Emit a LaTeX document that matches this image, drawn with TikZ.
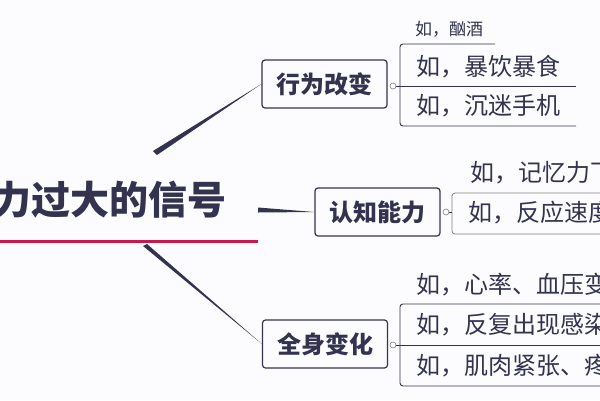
\documentclass[tikz,border=0pt]{standalone}
\usepackage{fontspec}
\setmainfont{Noto Sans CJK SC}
\usetikzlibrary{calc}
\definecolor{ink}{HTML}{33334F}
\definecolor{crim}{HTML}{C8194A}
\definecolor{paper}{HTML}{FCFCFE}
\tikzset{
  topic/.style={draw=ink, line width=1.2pt, rounded corners=3pt, minimum width=125pt,
    minimum height=48pt, font=\bfseries\fontsize{24}{24}\selectfont, text=ink, inner sep=0pt},
  leaf/.style={anchor=west, font=\fontsize{24}{24}\selectfont, text=ink, inner sep=0pt},
  small/.style={anchor=west, font=\fontsize{17}{17}\selectfont, text=ink, inner sep=0pt},
  knob/.style={draw=gray, fill=white, line width=0.6pt},
  rule/.style={draw=ink, line width=0.9pt}
}

\begin{document}
\begin{tikzpicture}[x=1pt,y=-1pt]
  \useasboundingbox (0,0) rectangle (600,400);
  \fill[paper] (0,0) rectangle (600,400);
  % central topic
  \node[anchor=east, font=\bfseries\fontsize{39}{39}\selectfont, text=ink, inner sep=0pt] (root) at (227,200) {压力过大的信号};
  \draw[crim, line width=3pt] (-40,241) -- (258,241);
  % main topics
  \node[topic] (behav) at (324.5,84) {行为改变};
  \node[topic] (cogn) at (377.5,212) {认知能力};
  \node[topic] (body) at (325,344) {全身变化};
  \coordinate (r1) at (155,152);
  \coordinate (r2) at (258,210);
  \coordinate (r3) at (145,245);
  \fill[ink] (r1) ++(-2,-1) -- (behav.west) -- ($(r1)+(2,3)$) -- cycle;
  \fill[ink] (r2) ++(0,-2.5) -- (cogn.west) -- ($(r2)+(0,2.5)$) -- cycle;
  \fill[ink] (r3) ++(-2,1) -- (body.west) -- ($(r3)+(2,-1)$) -- cycle;
  % behaviour leaves
  \draw[rule] (393,86) -- (576,86);
  \draw[rule, rounded corners=3pt] (495,44) -- (400,44) -- (400,126) -- (576,126);
  \node[small] (b0) at (415,29) {如，酗酒};
  \node[leaf] (b1) at (416,67) {如，暴饮暴食};
  \node[leaf] (b2) at (416,106) {如，沉迷手机};
  \draw[knob] (393,86) circle (3);
  % cognition leaves
  \draw[gray, line width=0.8pt, rounded corners=3pt] (452,193) rectangle (640,234);
  \draw[rule] (446,212) -- (452,212);
  \node[leaf] (c0) at (470,173) {如，记忆力下降};
  \node[leaf] (c1) at (468,213) {如，反应速度变慢};
  \draw[knob] (446,212) circle (3);
  % body leaves
  \draw[rule] (393,345) -- (620,345);
  \draw[rule, rounded corners=3pt] (620,304) -- (400,304) -- (400,386) -- (620,386);
  \node[leaf] (d0) at (416,285) {如，心率、血压变化};
  \node[leaf] (d1) at (416,325) {如，反复出现感染};
  \node[leaf] (d2) at (416,366) {如，肌肉紧张、疼痛};
  \draw[knob] (393,345) circle (3);
\end{tikzpicture}
\end{document}
